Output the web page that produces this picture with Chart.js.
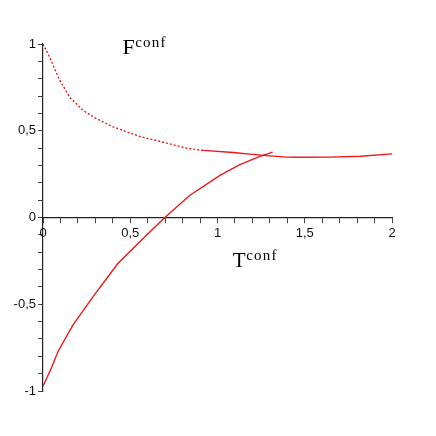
<!DOCTYPE html>
<html>
<head>
<meta charset="utf-8">
<script src="https://cdn.jsdelivr.net/npm/chart.js@4/dist/chart.umd.min.js"></script>
<style>
  html, body { margin: 0; padding: 0; background: #fff; }
  canvas { display: block; }
</style>
</head>
<body>
<canvas id="c" width="436" height="436"></canvas>
<script>
// F^conf, unstable (dotted) branch
const fDashX = [0, 0.038, 0.096, 0.153, 0.23, 0.306, 0.402, 0.555, 0.708, 0.823, 0.918];
const fDashY = [1, 0.924, 0.79, 0.694, 0.617, 0.57, 0.522, 0.467, 0.429, 0.40, 0.386];
// F^conf, solid branch
const fSolidX = [0.918, 1.09, 1.2, 1.3, 1.396, 1.47, 1.646, 1.82, 2.0];
const fSolidY = [0.387, 0.375, 0.364, 0.355, 0.348, 0.347, 0.348, 0.353, 0.367];
// T^conf
const tX = [0, 0.048, 0.086, 0.172, 0.287, 0.43, 0.612, 0.698, 0.842, 1.014, 1.128, 1.243, 1.316];
const tY = [-0.973, -0.868, -0.772, -0.619, -0.456, -0.264, -0.083, 0, 0.128, 0.243, 0.305, 0.352, 0.377];

const xMin = 0, xMax = 2, yMin = -1, yMax = 1, tickStep = 0.1;
const yTitle = ['F', 'conf'];
const xTitle = ['T', 'conf'];

function pts(xs, ys) { return xs.map((x, i) => ({x: x, y: ys[i]})); }
function fmt(v) {
  if (Math.abs(v * 2 - Math.round(v * 2)) > 1e-6) return '';
  const r = Math.round(v * 2) / 2;
  return String(r).replace('.', ',');
}

const titlePlugin = {
  id: 'supTitles',
  afterDraw(chart) {
    const ctx = chart.ctx;
    const xs = chart.scales.x, ys = chart.scales.y;
    function draw(parts, px, py, big) {
      ctx.save();
      ctx.fillStyle = '#000';
      ctx.textBaseline = 'alphabetic';
      ctx.textAlign = 'left';
      ctx.font = big + 'px "Liberation Serif"';
      ctx.fillText(parts[0], px, py);
      const w = ctx.measureText(parts[0]).width;
      ctx.font = '15px "Liberation Serif"';
      try { ctx.letterSpacing = '1.2px'; } catch (e) {}
      ctx.fillText(parts[1], px + w + 0.5, py - 7);
      ctx.restore();
    }
    draw(yTitle, xs.getPixelForValue(0.455), ys.getPixelForValue(0.94), 22);
    draw(xTitle, xs.getPixelForValue(1.088), ys.getPixelForValue(-0.283), 21);
  }
};

const axisCommon = {
  type: 'linear',
  border: {color: '#222', width: 1.2},
  grid: {drawOnChartArea: false, drawTicks: true, tickLength: 5, color: '#444', lineWidth: 1},
  ticks: {stepSize: tickStep, autoSkip: false, maxRotation: 0, minRotation: 0, padding: 3, color: '#111',
          font: {family: '"Liberation Sans"', size: 13}, callback: fmt}
};

new Chart(document.getElementById('c'), {
  type: 'scatter',
  data: {
    datasets: [
      {data: pts(fDashX, fDashY), showLine: true, borderColor: '#f01818', borderWidth: 1.4, borderDash: [2, 2], pointRadius: 0, tension: 0},
      {data: pts(fSolidX, fSolidY), showLine: true, borderColor: '#f01818', borderWidth: 1.4, pointRadius: 0, tension: 0},
      {data: pts(tX, tY), showLine: true, borderColor: '#f01818', borderWidth: 1.4, pointRadius: 0, tension: 0}
    ]
  },
  options: {
    responsive: false,
    animation: false,
    layout: {padding: {left: 0, right: 44, top: 44, bottom: 45}},
    plugins: {legend: {display: false}, tooltip: {enabled: false}, title: {display: false}},
    scales: {
      x: Object.assign({}, axisCommon, {min: xMin, max: xMax, position: {y: 0}}),
      y: Object.assign({}, axisCommon, {min: yMin, max: yMax, position: 'left',
            ticks: Object.assign({}, axisCommon.ticks, {padding: 2}),
            afterFit(scale) { scale.width = 43; }})
    }
  },
  plugins: [titlePlugin]
});
</script>
</body>
</html>
